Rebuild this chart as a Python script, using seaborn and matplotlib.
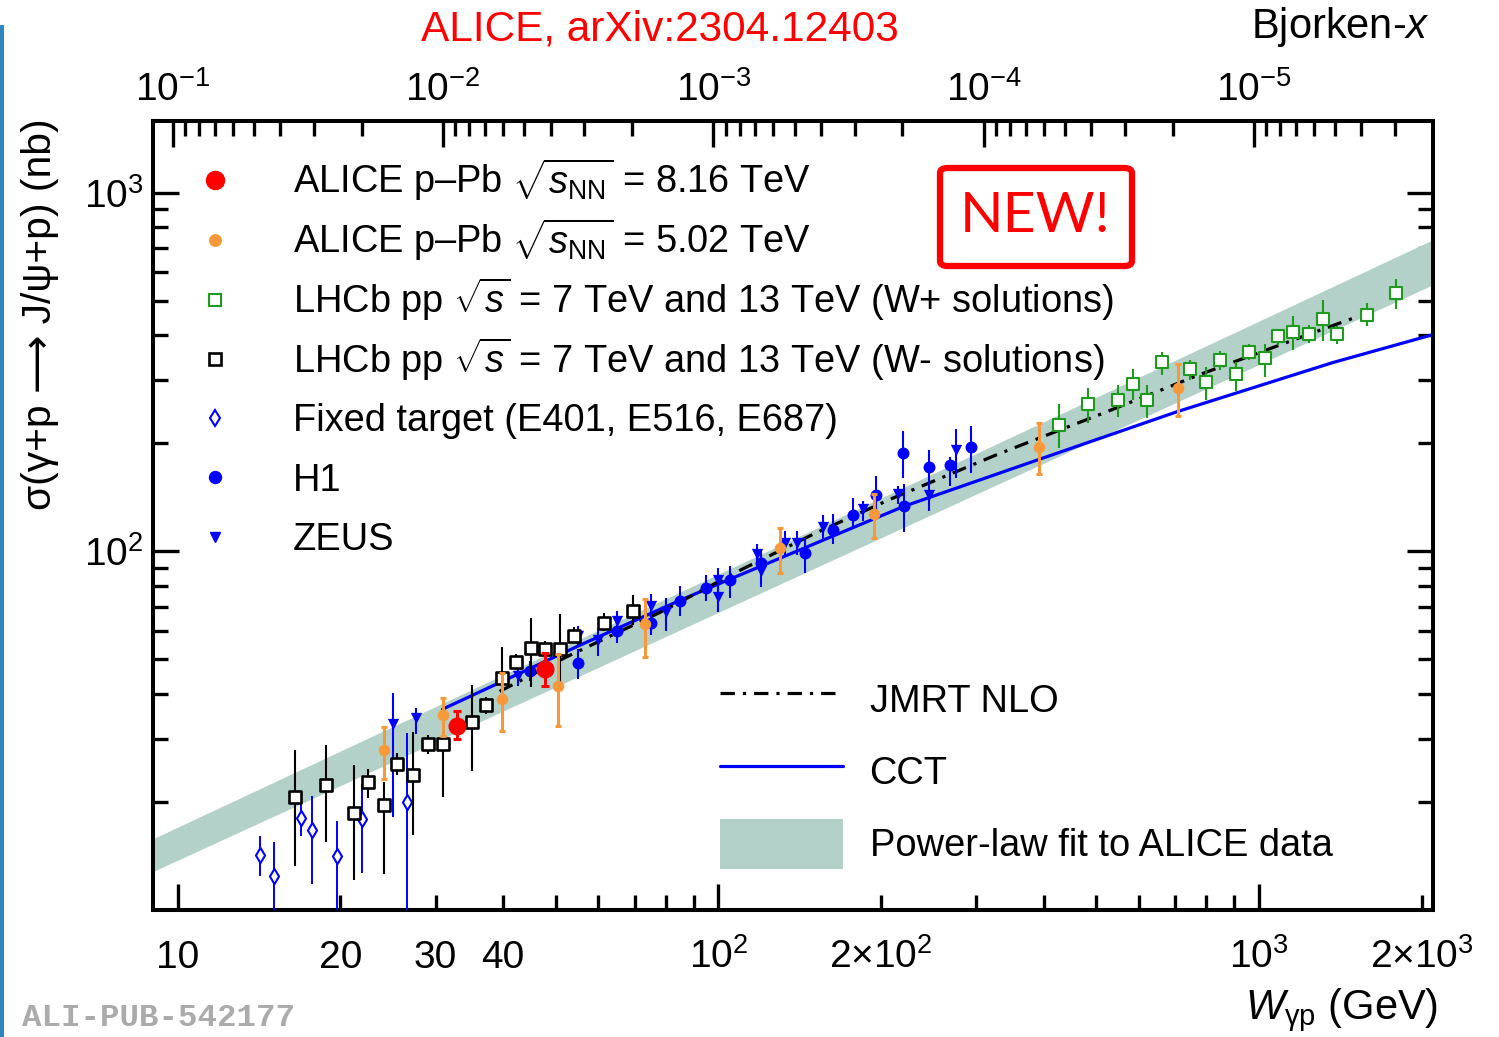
import numpy as np
import pandas as pd
import matplotlib
matplotlib.use("Agg")
import matplotlib.pyplot as plt
import seaborn as sns
from matplotlib.ticker import FixedLocator, FixedFormatter, NullFormatter, LogFormatterSciNotation
from matplotlib.patches import Rectangle, FancyBboxPatch
from matplotlib.lines import Line2D

# ---------------- data (W in GeV, sigma in nb) ----------------
alice816_W = [32.9, 47.9]
alice816_sig = [32.6, 47.1]
alice816_lo = [29.9, 42.0]
alice816_hi = [35.8, 52.2]

alice502_W = [24.1, 31.0, 39.8, 50.5, 73.3, 130.2, 194.0, 392.3, 708.9]
alice502_sig = [27.9, 34.9, 38.7, 42.1, 62.6, 102.3, 126.8, 195.2, 285.8]
alice502_lo = [23.2, 30.6, 31.6, 32.6, 50.6, 87.2, 109.2, 163.9, 238.2]
alice502_hi = [32.4, 39.1, 45.7, 51.7, 73.8, 116.4, 144.1, 227.3, 333.3]

lhcbp_W = [427, 484, 548, 584, 620, 662, 747, 797, 847, 906, 960, 1026, 1086,
           1157, 1239, 1312, 1396, 1582, 1792]
lhcbp_sig = [225.8, 257.9, 263.9, 293.2, 265.1, 336.8, 322.8, 297.0, 341.1, 312.6,
             360.8, 345.5, 397.9, 408.2, 404.8, 445.8, 404.8, 457.3, 525.6]
lhcbp_lo = [194.5, 228.3, 237.3, 265.1, 235.8, 311.2, 301.4, 263.9, 321.3, 279.6,
            342.6, 306.6, 377.3, 363.7, 381.4, 385.3, 379.8, 424.3, 474.3]
lhcbp_hi = [256.8, 285.8, 291.9, 322.8, 291.9, 359.2, 342.6, 327.0, 361.5, 336.8,
            379.8, 379.8, 415.4, 452.3, 429.0, 503.4, 424.3, 492.8, 575.0]

lhcbm_W = [16.5, 18.8, 21.2, 22.5, 24.1, 25.5, 27.3, 29.0, 30.9, 35.0, 37.1, 39.8,
           42.2, 45.0, 47.8, 51.0, 54.1, 61.4, 69.6]
lhcbm_sig = [20.6, 22.3, 18.7, 22.7, 19.6, 25.6, 23.8, 29.1, 29.1, 33.5, 37.2, 44.3,
             49.2, 53.7, 53.4, 53.4, 58.0, 63.0, 68.3]
lhcbm_lo = [13.3, 15.5, 12.1, 20.5, 12.6, 23.8, 16.2, 27.2, 20.7, 24.4, 35.2, 41.3,
            46.9, 41.8, 50.6, 40.7, 55.8, 60.0, 62.2]
lhcbm_hi = [28.0, 28.8, 25.3, 24.7, 22.8, 27.4, 31.3, 30.7, 30.5, 42.3, 39.2, 54.0,
            51.7, 65.1, 56.3, 66.8, 61.4, 67.2, 75.4]

fixed_W = [14.2, 15.1, 16.9, 17.7, 19.7, 21.9, 26.5]
fixed_sig = [14.2, 12.4, 18.1, 16.7, 14.1, 17.9, 20.0]
fixed_lo = [12.4, 9.0, 16.1, 11.8, 9.0, 12.7, 9.0]
fixed_hi = [16.1, 15.5, 20.0, 20.8, 17.7, 22.4, 31.1]

h1_W = [44.8, 54.9, 65.0, 75.2, 85.0, 95.1, 105.0, 120.2, 144.5, 162.7, 177.6,
        195.6, 220.1, 220.4, 245.2, 268.1, 293.2]
h1_sig = [46.4, 48.8, 60.0, 63.3, 72.8, 79.0, 83.1, 92.9, 99.2, 114.4, 126.6,
          143.7, 188.3, 133.5, 171.7, 174.0, 194.9]
h1_lo = [43.5, 44.0, 55.5, 58.6, 66.1, 72.7, 74.3, 85.5, 87.2, 104.6, 115.1,
         126.8, 159.7, 113.0, 152.0, 152.0, 165.7]
h1_hi = [49.5, 53.4, 64.8, 68.4, 80.1, 85.9, 91.0, 101.0, 109.2, 126.8, 140.5,
         161.8, 216.3, 153.7, 192.3, 182.8, 223.4]

zeus_W = [25.0, 27.6, 42.6, 55.1, 59.9, 65.0, 75.2, 80.0, 99.9, 99.9, 117.8, 119.8,
          133.0, 139.7, 155.9, 185.1, 215.3, 245.5, 275.0]
zeus_sig = [33.1, 34.3, 45.0, 58.0, 56.7, 63.8, 70.3, 67.6, 83.3, 74.7, 98.1, 88.3,
            105.6, 105.6, 117.0, 131.3, 144.4, 143.7, 191.7]
zeus_lo = [18.2, 30.9, 42.2, 54.4, 51.0, 59.9, 65.1, 59.9, 77.1, 67.7, 92.0, 79.8,
           97.8, 97.8, 108.3, 121.5, 135.2, 129.5, 160.4]
zeus_hi = [40.2, 36.5, 48.0, 61.8, 60.6, 68.0, 75.9, 74.0, 90.0, 82.4, 104.6, 97.6,
           114.1, 114.1, 126.4, 137.8, 151.7, 151.7, 218.7]

cct_W = [30.9, 55.4, 84.9, 105.0, 220.4, 391.8, 708.0, 1370.6, 2100]
cct_sig = [36.3, 54.7, 73.0, 83.6, 133.5, 180.4, 245.5, 336.1, 402.2]

jmrt_W = [39.4, 52.4, 77.9, 109.6, 149.6, 207.7, 331.6, 507.9, 777.9, 1190.7, 1505.0]
jmrt_sig = [40.7, 50.8, 67.5, 88.5, 111.5, 139.6, 187.5, 240.8, 311.2, 394.5, 448.6]

band_W = [9.0, 2100.0]
band_lo = [12.8, 554.0]
band_hi = [15.8, 740.0]

legend1a_labels = [r"ALICE p–Pb $\sqrt{s_{\mathrm{NN}}}$ = 8.16 TeV",
                   r"ALICE p–Pb $\sqrt{s_{\mathrm{NN}}}$ = 5.02 TeV",
                   r"LHCb pp $\sqrt{s}$ = 7 TeV and 13 TeV (W+ solutions)",
                   r"LHCb pp $\sqrt{s}$ = 7 TeV and 13 TeV (W- solutions)"]
legend1b_labels = ["Fixed target (E401, E516, E687)", "H1", "ZEUS"]
legend2_labels = ["JMRT NLO", "CCT", "Power-law fit to ALICE data"]

xmajor_ticks = [10, 100, 1000]
xmajor_labels = ["10", r"$10^{2}$", r"$10^{3}$"]
xminor_ticks = [20, 30, 40, 50, 60, 70, 80, 90, 200, 300, 400, 500, 600, 700, 800, 900, 2000]
xminor_labels = ["20", "30", "40", "", "", "", "", "", r"$2{\times}10^{2}$", "", "", "", "", "", "", "", r"$2{\times}10^{3}$"]
ymajor_ticks = [100, 1000]
yminor_ticks = [20, 30, 40, 50, 60, 70, 80, 90, 200, 300, 400, 500, 600, 700, 800, 900]
bx_major_ticks = [1e-1, 1e-2, 1e-3, 1e-4, 1e-5]
bx_minor_ticks = [m * 10.0 ** e for e in (-6, -5, -4, -3, -2) for m in range(2, 10)
                  if 2.3e-6 < m * 10.0 ** e < 0.11]

M_JPSI = 3.0969

# ---------------- style ----------------
RED = "#FF0000"
ORANGE = "#F7993A"
GREEN = "#1E9B1E"
BLUE = "#0000FF"
BAND = "#B3D1C8"

sns.set_theme(style="ticks")
plt.rcParams.update({
    "font.family": ["Liberation Sans", "DejaVu Sans"],
    "mathtext.fontset": "custom",
    "mathtext.rm": "Liberation Sans",
    "mathtext.it": "Liberation Sans:italic",
    "mathtext.bf": "Liberation Sans:bold",
    "axes.linewidth": 2.9,
    "axes.edgecolor": "black",
    "xtick.color": "black",
    "ytick.color": "black",
    "text.color": "black",
    "axes.facecolor": "white",
    "figure.facecolor": "white",
})

W_PX, H_PX = 1499, 1037
fig = plt.figure(figsize=(W_PX / 100, H_PX / 100), dpi=100)
ax = fig.add_axes([153 / W_PX, 1 - 910 / H_PX, 1280 / W_PX, 789 / H_PX])
ax.set_xscale("log")
ax.set_yscale("log")
ax.set_xlim(9, 2100)
ax.set_ylim(10, 1585)

# band
ax.fill_between(band_W, band_lo, band_hi, color=BAND, lw=0, zorder=1)

# model lines
sns.lineplot(data=pd.DataFrame({"W": cct_W, "sigma": cct_sig}), x="W", y="sigma", ax=ax,
             color=BLUE, lw=2.3, sort=False, estimator=None, legend=False, zorder=2)
sns.lineplot(data=pd.DataFrame({"W": jmrt_W, "sigma": jmrt_sig}), x="W", y="sigma", ax=ax,
             color="black", lw=2.3, sort=False, estimator=None, legend=False, zorder=2.5)
ax.lines[-1].set_dashes([4.5, 2.5, 1, 2.5])


def draw(Wv, s, lo, hi, z, ecolor, elw, capsize, marker, size, fc, ec, mlw):
    Wv = np.asarray(Wv, float); s = np.asarray(s, float)
    lo = np.asarray(lo, float); hi = np.asarray(hi, float)
    ax.errorbar(Wv, s, yerr=[s - lo, hi - s], fmt="none", ecolor=ecolor, elinewidth=elw,
                capsize=capsize, capthick=elw, zorder=z)
    sns.scatterplot(x=Wv, y=s, ax=ax, marker=marker, s=size, facecolor=fc, edgecolor=ec,
                    linewidth=mlw, zorder=z + 0.5, legend=False)


draw(fixed_W, fixed_sig, fixed_lo, fixed_hi, 3, BLUE, 1.4, 0, "d", 60, "white", BLUE, 1.5)
draw(h1_W, h1_sig, h1_lo, h1_hi, 4, BLUE, 1.5, 0, "o", 74, BLUE, BLUE, 0)
draw(zeus_W, zeus_sig, zeus_lo, zeus_hi, 5, BLUE, 1.5, 0, "v", 66, BLUE, BLUE, 0)
draw(lhcbm_W, lhcbm_sig, lhcbm_lo, lhcbm_hi, 6, "black", 1.5, 0, "s", 72, "white", "black", 1.9)
draw(lhcbp_W, lhcbp_sig, lhcbp_lo, lhcbp_hi, 7, GREEN, 1.5, 0, "s", 76, "white", GREEN, 1.5)
draw(alice502_W, alice502_sig, alice502_lo, alice502_hi, 8, ORANGE, 2.2, 2.5, "o", 69, ORANGE, ORANGE, 0)
draw(alice816_W, alice816_sig, alice816_lo, alice816_hi, 9, RED, 2.2, 2.9, "o", 169, RED, RED, 0)

# ---------------- axes / ticks ----------------
ax.xaxis.set_major_locator(FixedLocator(xmajor_ticks))
ax.xaxis.set_major_formatter(FixedFormatter(xmajor_labels))
ax.xaxis.set_minor_locator(FixedLocator(xminor_ticks))
ax.xaxis.set_minor_formatter(FixedFormatter(xminor_labels))
ax.yaxis.set_major_locator(FixedLocator(ymajor_ticks))
ax.yaxis.set_major_formatter(LogFormatterSciNotation())
ax.yaxis.set_minor_locator(FixedLocator(yminor_ticks))
ax.yaxis.set_minor_formatter(NullFormatter())
ax.set_xlabel("")
ax.set_ylabel("")

ax.tick_params(axis="both", which="major", direction="in", length=19, width=2.4, labelsize=28)
ax.tick_params(axis="both", which="minor", direction="in", length=10.5, width=2.4, labelsize=28)
ax.tick_params(axis="x", which="both", top=False, bottom=True, pad=41.5)
ax.tick_params(axis="y", which="both", left=True, right=True, pad=7)
for t in ax.xaxis.get_major_ticks() + ax.xaxis.get_minor_ticks():
    t.label1.set_verticalalignment("baseline")

M2 = M_JPSI ** 2


def w2x(w):
    w = np.asarray(w, float)
    return M2 / np.maximum(w, 1e-12) ** 2


def x2w(x):
    x = np.asarray(x, float)
    return np.sqrt(M2 / np.maximum(x, 1e-30))


sec = ax.secondary_xaxis("top", functions=(w2x, x2w))
sec.xaxis.set_major_locator(FixedLocator(bx_major_ticks))
sec.xaxis.set_major_formatter(LogFormatterSciNotation())
sec.xaxis.set_minor_locator(FixedLocator(bx_minor_ticks))
sec.xaxis.set_minor_formatter(NullFormatter())
sec.tick_params(which="major", direction="in", length=19, width=2.4, labelsize=28, pad=9)
sec.tick_params(which="minor", direction="in", length=10.5, width=2.4)

# ---------------- legends ----------------
h_816 = Line2D([], [], ls="none", marker="o", ms=13, mfc=RED, mec=RED)
h_502 = Line2D([], [], ls="none", marker="o", ms=8.3, mfc=ORANGE, mec=ORANGE)
h_lp = Line2D([], [], ls="none", marker="s", ms=8.3, mfc="white", mec=GREEN, mew=1.5)
h_lm = Line2D([], [], ls="none", marker="s", ms=8.0, mfc="white", mec="black", mew=1.9)
h_ft = Line2D([], [], ls="none", marker="d", ms=8.0, mfc="white", mec=BLUE, mew=1.5)
h_h1 = Line2D([], [], ls="none", marker="o", ms=8.6, mfc=BLUE, mec=BLUE)
h_ze = Line2D([], [], ls="none", marker="v", ms=7.9, mfc=BLUE, mec=BLUE)
leg_kw = dict(loc="upper left", frameon=False, fontsize=27.4, borderpad=0, borderaxespad=0,
              numpoints=1)
leg1a = ax.legend(handles=[h_816, h_502, h_lp, h_lm], labels=legend1a_labels,
                  bbox_to_anchor=(0.0336, 0.955), handlelength=1.0, handletextpad=1.54,
                  labelspacing=0.33, **leg_kw)
ax.add_artist(leg1a)
leg1b = ax.legend(handles=[h_ft, h_h1, h_ze], labels=legend1b_labels,
                  bbox_to_anchor=(0.0336, 0.6425), handlelength=1.0, handletextpad=1.54,
                  labelspacing=0.62, **leg_kw)
ax.add_artist(leg1b)

h_jmrt = Line2D([], [], color="black", lw=2.3, dashes=[4.5, 2.5, 1, 2.5])
h_cct = Line2D([], [], color=BLUE, lw=2.3)
h_band = Rectangle((0, 0), 1, 1, facecolor=BAND, edgecolor="none")
leg2 = ax.legend(handles=[h_jmrt, h_cct, h_band], labels=legend2_labels,
                 bbox_to_anchor=(0.4430, 0.2984), handlelength=3.22, handleheight=1.65,
                 handletextpad=0.71, labelspacing=0.58, **leg_kw)

# ---------------- texts / decorations ----------------
fig.text(660 / W_PX, 1 - 29 / H_PX, "ALICE, arXiv:2304.12403", color=RED, fontsize=30.5,
         ha="center", va="center")
fig.text(1430 / W_PX, 1 - 27 / H_PX, r"Bjorken-$x$", fontsize=30, ha="right", va="center")
fig.text(1438 / W_PX, 1 - 1010 / H_PX, r"$W_{\mathrm{γp}}$ (GeV)", fontsize=30,
         ha="right", va="center")
fig.text(40 / W_PX, 1 - 118 / H_PX, "σ(γ+p ⟶ J/ψ+p) (nb)", fontsize=29.3,
         family=["Liberation Sans", "DejaVu Sans"], rotation=90, ha="center", va="top")

box = FancyBboxPatch((940 / W_PX, 1 - 266 / H_PX), 192 / W_PX, 98 / H_PX,
                     boxstyle="round,pad=0,rounding_size=0.005", transform=fig.transFigure,
                     fill=False, edgecolor=RED, lw=4.5)
fig.add_artist(box)
fig.text(1035 / W_PX, 1 - 217 / H_PX, "NEW!", family=["Lato", "DejaVu Sans"], fontsize=41,
         color=RED, ha="center", va="center")

fig.text(22 / W_PX, 1 - 1026 / H_PX, "ALI-PUB-542177", family=["Liberation Mono", "DejaVu Sans Mono"],
         weight="bold", fontsize=23.4, color="#ABABAB", ha="left", va="baseline")
fig.add_artist(Rectangle((0, 0), 4 / W_PX, 1 - 25 / H_PX, transform=fig.transFigure,
                         facecolor="#2E86C1", edgecolor="none"))

fig.savefig("out.png", dpi=100)
